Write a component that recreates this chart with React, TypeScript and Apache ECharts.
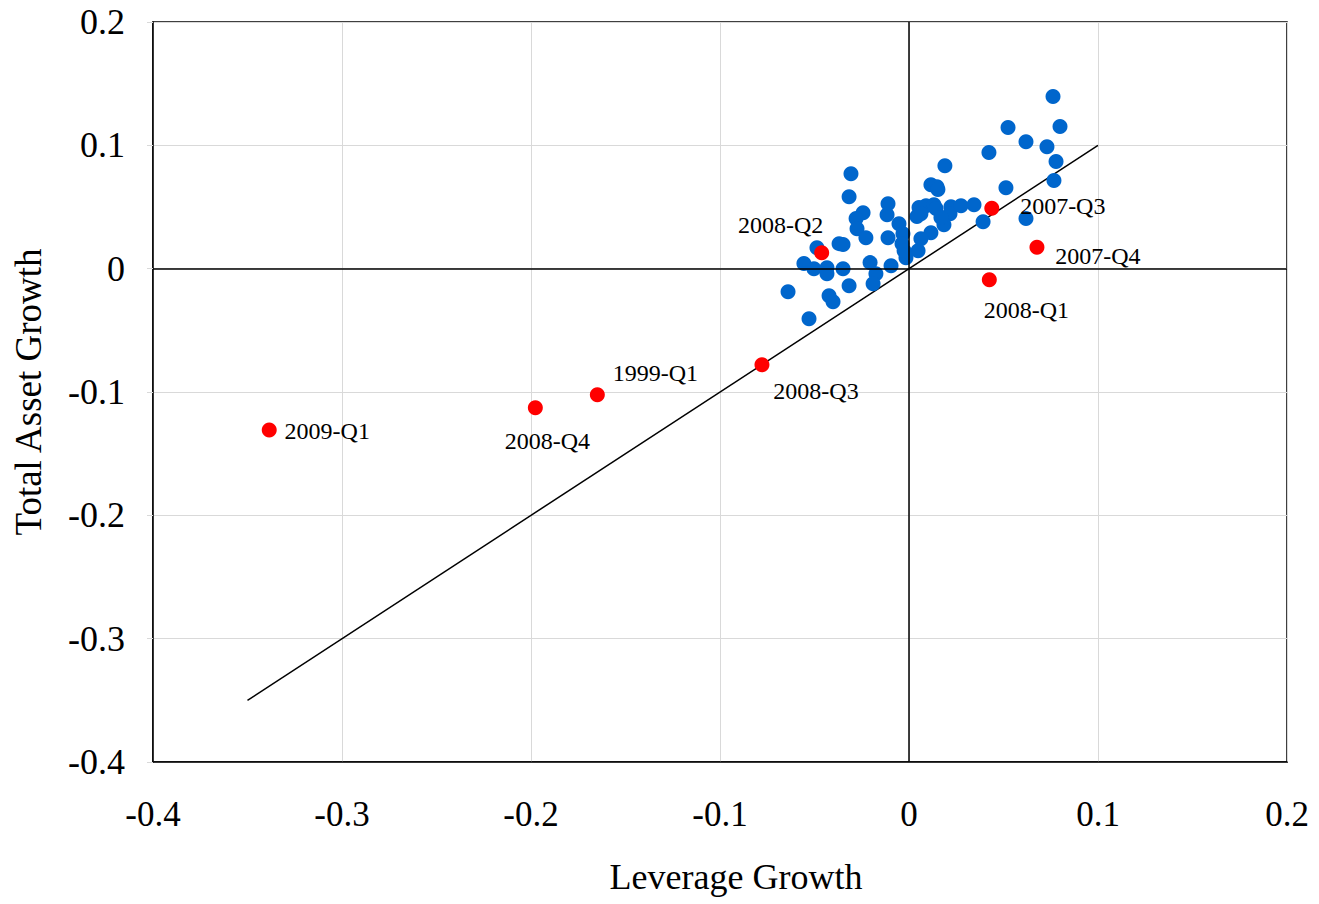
import React, { useEffect, useRef } from "react";
import * as echarts from "echarts";

const blueX = [
  0.0762, 0.0524, 0.0799, 0.0619, 0.073, 0.0423, 0.0778, 0.019, -0.0307, 0.0513,
  0.0767, -0.0317, 0.0116, 0.0148, 0.0153, -0.0111, -0.0243, -0.0116, 0.0053, 0.009,
  0.0132, 0.0143, 0.0063, 0.0222, 0.0217, 0.0275, 0.0344, 0.0185, 0.0116, 0.0063,
  0.0048, -0.0016, 0.0392, 0.0619, 0.0169, -0.028, -0.0053, -0.0275, -0.0228, -0.0111,
  -0.0032, -0.0037, -0.0026, -0.037, -0.0349, -0.0487, -0.0556, -0.0503, -0.0434, -0.0434,
  -0.0349, -0.0206, -0.0175, -0.0095, -0.019, -0.064, -0.0317, -0.0423, -0.0402, -0.0529,
  0.0042,
];
const blueY = [
  0.1395, 0.1144, 0.1152, 0.103, 0.0989, 0.0941, 0.0868, 0.0835, 0.077, 0.0657,
  0.0714, 0.0584, 0.0681, 0.0665, 0.0641, 0.0527, 0.0454, 0.0438, 0.0495, 0.0511,
  0.0519, 0.0487, 0.0446, 0.0503, 0.0446, 0.0511, 0.0519, 0.0357, 0.0292, 0.0243,
  0.0146, 0.0089, 0.0381, 0.0406, 0.0414, 0.0406, 0.0365, 0.0324, 0.0251, 0.0251,
  0.0284, 0.0203, 0.0146, 0.0203, 0.0195, 0.017, 0.0041, 0.0, 0.0008, -0.0041,
  0.0, 0.0049, -0.0041, 0.0024, -0.0122, -0.0187, -0.0138, -0.0219, -0.0268, -0.0406,
  0.0422,
];

const redNames = ["2008-Q2", "2007-Q3", "2007-Q4", "2008-Q1", "2008-Q3", "1999-Q1", "2008-Q4", "2009-Q1"];
const redX = [-0.0462, 0.0438, 0.0677, 0.0425, -0.0778, -0.1649, -0.1977, -0.3385];
const redY = [0.013, 0.0489, 0.0173, -0.0089, -0.0779, -0.1022, -0.1127, -0.1308];

const lineX = [-0.35, 0.1];
const lineY = [-0.35, 0.1];

const xTicks = [-0.4, -0.3, -0.2, -0.1, 0, 0.1, 0.2];
const yTicks = [-0.4, -0.3, -0.2, -0.1, 0, 0.1, 0.2];

// label offsets (pixels) for annotated points
const labelOffsets: Record<string, [number, number]> = {
  "2008-Q2": [-41, -28],
  "2007-Q3": [71, -2],
  "2007-Q4": [61, 9],
  "2008-Q1": [37, 30],
  "2008-Q3": [54, 26],
  "1999-Q1": [58, -22],
  "2008-Q4": [12, 33],
  "2009-Q1": [58, 1],
};

const FONT = "'Liberation Serif', 'Times New Roman', serif";

export default function App() {
  const ref = useRef<HTMLDivElement>(null);
  useEffect(() => {
    if (!ref.current) return;
    const chart = echarts.init(ref.current, undefined, { renderer: "svg" });
    const fmt = (v: number) => {
      const r = Math.round(v * 10) / 10;
      return r === 0 ? "0" : String(r);
    };
    chart.setOption({
      animation: false,
      backgroundColor: "#fff",
      grid: {
        left: 153,
        right: 32,
        top: 22,
        bottom: 142,
        show: true,
        borderColor: "#000",
        borderWidth: 1.5,
      },
      xAxis: {
        type: "value",
        min: xTicks[0],
        max: xTicks[xTicks.length - 1],
        interval: 0.1,
        name: "Leverage Growth",
        nameLocation: "middle",
        nameGap: 97,
        nameTextStyle: { fontFamily: FONT, fontSize: 36, color: "#000", padding: [0, 0, 0, 32] },
        axisLine: { onZero: false, lineStyle: { color: "#000", width: 1.5 } },
        axisTick: { show: false },
        axisLabel: { fontFamily: FONT, fontSize: 35, color: "#000", margin: 35, formatter: fmt },
        splitLine: { lineStyle: { color: "#d9d9d9", width: 1 } },
      },
      yAxis: {
        type: "value",
        min: yTicks[0],
        max: yTicks[yTicks.length - 1],
        interval: 0.1,
        name: "Total Asset Growth",
        nameLocation: "middle",
        nameGap: 106,
        nameTextStyle: { fontFamily: FONT, fontSize: 37, color: "#000" },
        axisLine: { onZero: false, lineStyle: { color: "#000", width: 1.5 } },
        axisTick: { show: true, length: 6, lineStyle: { color: "#d9d9d9" } },
        axisLabel: { fontFamily: FONT, fontSize: 36, color: "#000", margin: 28, formatter: fmt },
        splitLine: { lineStyle: { color: "#d9d9d9", width: 1 } },
      },
      series: [
        {
          type: "line",
          data: lineX.map((x, i) => [x, lineY[i]]),
          symbol: "none",
          lineStyle: { color: "#000", width: 1.5 },
          silent: true,
          z: 1,
          markLine: {
            silent: true,
            symbol: "none",
            label: { show: false },
            lineStyle: { color: "#000", width: 1.5, type: "solid" },
            data: [{ xAxis: 0 }, { yAxis: 0 }],
          },
        },
        {
          type: "scatter",
          data: blueX.map((x, i) => [x, blueY[i]]),
          symbolSize: 15,
          itemStyle: { color: "#0066CC", opacity: 1 },
          z: 3,
        },
        {
          type: "scatter",
          data: redX.map((x, i) => ({
            value: [x, redY[i]],
            name: redNames[i],
            label: {
              show: true,
              position: "inside",
              offset: labelOffsets[redNames[i]],
              formatter: redNames[i],
              fontFamily: FONT,
              fontSize: 24,
              color: "#000",
            },
          })),
          symbolSize: 15,
          itemStyle: { color: "#FF0000", opacity: 1 },
          z: 4,
        },
      ],
    });
    return () => chart.dispose();
  }, []);
  return (
    <div
      ref={ref}
      style={{ position: "absolute", left: 0, top: 0, width: 1319, height: 904 }}
    />
  );
}
